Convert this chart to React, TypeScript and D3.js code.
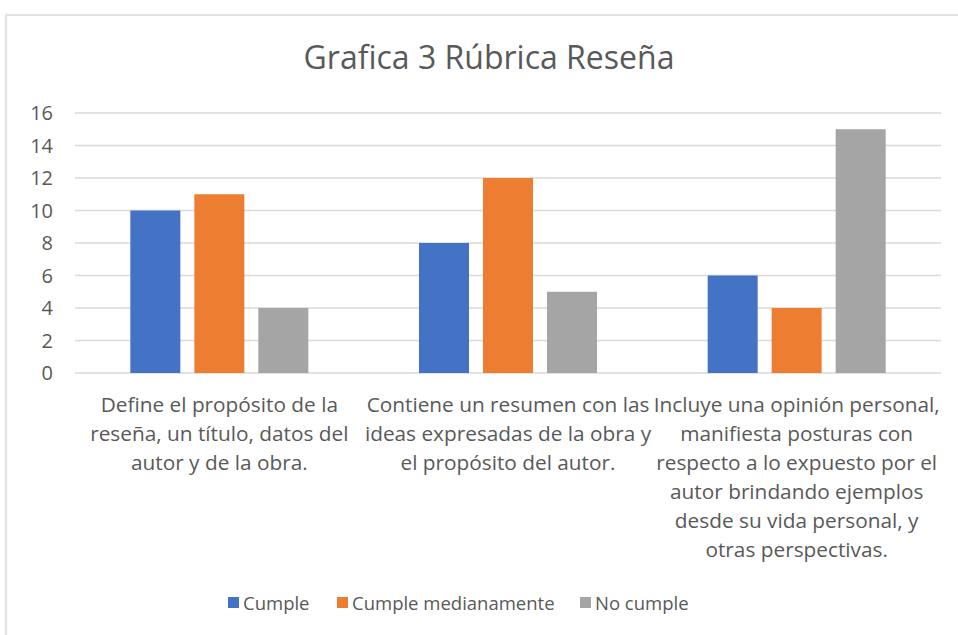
import React from "react";
import * as d3 from "d3";

const categories = [
  ["Define el propósito de la", "reseña, un título, datos del", "autor y de la obra."],
  ["Contiene un resumen con las", "ideas expresadas de la obra y", "el propósito del autor."],
  [
    "Incluye una opinión personal,",
    "manifiesta posturas con",
    "respecto a lo expuesto por el",
    "autor brindando ejemplos",
    "desde su vida personal, y",
    "otras perspectivas.",
  ],
];
const seriesNames = ["Cumple", "Cumple medianamente", "No cumple"];
const cumple = [10, 8, 6];
const medianamente = [11, 12, 4];
const noCumple = [4, 5, 15];
const yTicks = [0, 2, 4, 6, 8, 10, 12, 14, 16];
const colors = ["#4472C4", "#ED7D31", "#A5A5A5"];

const W = 958;
const H = 635;
const FONT = "'Open Sans', 'Noto Sans', sans-serif";

export default function App() {
  const series = [cumple, medianamente, noCumple];
  const left = 75, right = 941, top = 113, bottom = 373;
  const x0 = d3.scaleBand<number>().domain([0, 1, 2]).range([left, right]).paddingInner(0).paddingOuter(0);
  const y = d3.scaleLinear().domain([0, 16]).range([bottom, top]);
  const bw = 50, gap = 14;
  const groupW = 3 * bw + 2 * gap;
  const x1 = d3.scaleBand<number>().domain([0, 1, 2]).range([0, groupW]).paddingInner(gap / (bw + gap)).paddingOuter(0);

  const legendItems = [
    { x: 228, label: seriesNames[0] },
    { x: 337, label: seriesNames[1] },
    { x: 580, label: seriesNames[2] },
  ];

  return (
    <svg width={W} height={H} style={{ position: "absolute", left: 0, top: 0 }} fontFamily={FONT}>
      <rect x={0} y={0} width={W} height={H} fill="#fff" />
      <rect x={6} y={15} width={W + 10} height={H + 10} fill="#fff" stroke="#d9d9d9" strokeWidth={1.5} />
      <text x={489} y={69} textAnchor="middle" fontSize={32} fill="#595959">
        Grafica 3 Rúbrica Reseña
      </text>
      {yTicks.map((t) => (
        <g key={t}>
          <line x1={left} x2={right} y1={y(t)} y2={y(t)} stroke="#d9d9d9" strokeWidth={1.5} />
          <text x={53} y={y(t)} dy="0.36em" textAnchor="end" fontSize={20} fill="#595959">
            {t}
          </text>
        </g>
      ))}
      {categories.map((_, ci) => {
        const gx = x0(ci)! + x0.bandwidth() / 2 - groupW / 2;
        return series.map((s, si) => (
          <rect
            key={`${ci}-${si}`}
            x={gx + x1(si)!}
            y={y(s[ci])}
            width={x1.bandwidth()}
            height={y(0) - y(s[ci])}
            fill={colors[si]}
          />
        ));
      })}
      {categories.map((lines, ci) => (
        <text key={ci} textAnchor="middle" fontSize={20.8} fill="#595959">
          {lines.map((l, li) => (
            <tspan key={li} x={x0(ci)! + x0.bandwidth() / 2} y={412 + li * 29}>
              {l}
            </tspan>
          ))}
        </text>
      ))}
      {legendItems.map((it, i) => (
        <g key={i}>
          <rect x={it.x} y={597} width={11} height={11} fill={colors[i]} />
          <text x={it.x + 15} y={603} dy="0.36em" fontSize={18.5} fill="#595959">
            {it.label}
          </text>
        </g>
      ))}
    </svg>
  );
}
